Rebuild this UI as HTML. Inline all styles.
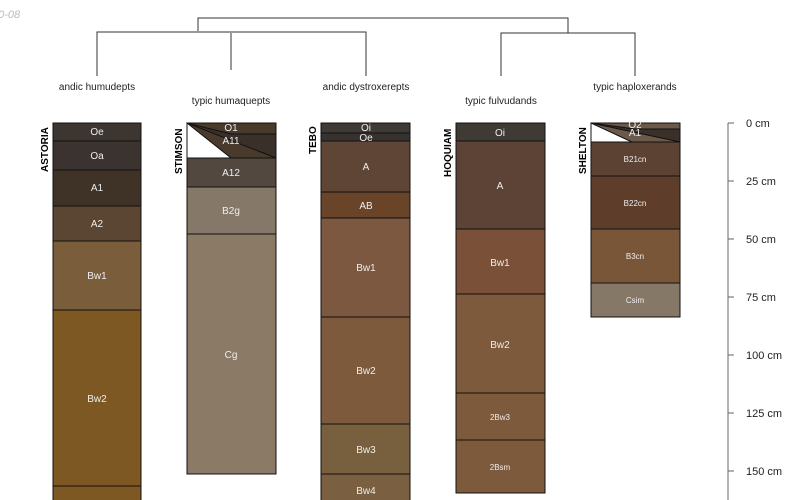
<!DOCTYPE html>
<html><head><meta charset="utf-8"><style>body{margin:0;background:#fff}svg{display:block}</style></head><body>
<svg width="800" height="500" xmlns="http://www.w3.org/2000/svg" font-family="Liberation Sans, sans-serif">
<text x="-8" y="18" font-size="11" fill="#bbb" font-style="italic">10-08</text>
<g stroke="#333" stroke-width="1" fill="none">
<path d="M198 31V18H568V33"/>
<path d="M97 76V32H366V76M231 33V70"/>
<path d="M501 76V33H635V76"/>
</g>
<g font-size="10" fill="#222" text-anchor="middle">
<text x="97" y="90">andic humudepts</text>
<text x="231" y="104">typic humaquepts</text>
<text x="366" y="90">andic dystroxerepts</text>
<text x="501" y="104">typic fulvudands</text>
<text x="635" y="90">typic haploxerands</text>
</g>
<g font-size="10" font-weight="bold" fill="#000">
<text transform="translate(48,172) rotate(-90)">ASTORIA</text>
<text transform="translate(182,174) rotate(-90)">STIMSON</text>
<text transform="translate(316,154) rotate(-90)">TEBO</text>
<text transform="translate(451,177) rotate(-90)">HOQUIAM</text>
<text transform="translate(586,174) rotate(-90)">SHELTON</text>
</g>
<g stroke="#111" stroke-width="1">
<rect x="53" y="123" width="88" height="18" fill="#3d3530"/>
<rect x="53" y="141" width="88" height="29" fill="#3a3330"/>
<rect x="53" y="170" width="88" height="36" fill="#3f3226"/>
<rect x="53" y="206" width="88" height="35" fill="#5a4632"/>
<rect x="53" y="241" width="88" height="69" fill="#7a5e3c"/>
<rect x="53" y="310" width="88" height="176" fill="#7e5823"/>
<rect x="53" y="486" width="88" height="20" fill="#7e5823"/>

<rect x="187" y="123" width="89" height="35" fill="#3a302a"/>
<polygon points="187,123 276,123 276,134 231,134" fill="#4a3a2c"/>
<polygon points="187,123 276,158 231,158" fill="#4a3a2c" stroke="none"/>
<polygon points="187,123 187,158 231,158" fill="#fff"/>
<line x1="187" y1="123" x2="276" y2="158"/>
<rect x="187" y="158" width="89" height="29" fill="#524840"/>
<rect x="187" y="187" width="89" height="47" fill="#857868"/>
<rect x="187" y="234" width="89" height="240" fill="#8a7a66"/>

<rect x="321" y="123" width="89" height="10" fill="#3f3a35"/>
<rect x="321" y="133" width="89" height="8" fill="#38322e"/>
<rect x="321" y="141" width="89" height="51" fill="#5e4535"/>
<rect x="321" y="192" width="89" height="26" fill="#6a4428"/>
<rect x="321" y="218" width="89" height="99" fill="#7d5840"/>
<rect x="321" y="317" width="89" height="107" fill="#7d5a3c"/>
<rect x="321" y="424" width="89" height="50" fill="#78603e"/>
<rect x="321" y="474" width="89" height="30" fill="#7a6040"/>

<rect x="456" y="123" width="89" height="18" fill="#403a35"/>
<rect x="456" y="141" width="89" height="88" fill="#5c4335"/>
<rect x="456" y="229" width="89" height="65" fill="#7a5038"/>
<rect x="456" y="294" width="89" height="99" fill="#7d5a3c"/>
<rect x="456" y="393" width="89" height="47" fill="#7d5a3c"/>
<rect x="456" y="440" width="89" height="53" fill="#7d5a3c"/>

<rect x="591" y="123" width="89" height="19" fill="#3a302a"/>
<polygon points="591,123 680,123 680,129 635,129" fill="#6b5a4a"/>
<polygon points="591,123 680,142 632,142" fill="#6b5a4a" stroke="none"/>
<polygon points="591,123 591,142 632,142" fill="#fff"/>
<line x1="591" y1="123" x2="680" y2="142"/>
<rect x="591" y="142" width="89" height="34" fill="#5c4232"/>
<rect x="591" y="176" width="89" height="53" fill="#5e3e2a"/>
<rect x="591" y="229" width="89" height="54" fill="#7a5638"/>
<rect x="591" y="283" width="89" height="34" fill="#857866"/>
</g>
<g fill="#eee" font-size="10" text-anchor="middle">
<text x="97" y="135">Oe</text><text x="97" y="159">Oa</text><text x="97" y="191">A1</text><text x="97" y="227">A2</text><text x="97" y="279">Bw1</text><text x="97" y="402">Bw2</text>
<text x="231" y="131">O1</text><text x="231" y="144">A11</text><text x="231" y="176">A12</text><text x="231" y="214">B2g</text><text x="231" y="358">Cg</text>
<text x="366" y="131">Oi</text><text x="366" y="141">Oe</text><text x="366" y="170">A</text><text x="366" y="209">AB</text><text x="366" y="271">Bw1</text><text x="366" y="374">Bw2</text><text x="366" y="453">Bw3</text><text x="366" y="494">Bw4</text>
<text x="500" y="136">Oi</text><text x="500" y="189">A</text><text x="500" y="266">Bw1</text><text x="500" y="348">Bw2</text>
<text x="500" y="420" font-size="8">2Bw3</text><text x="500" y="470" font-size="8">2Bsm</text>
<text x="635" y="128">O2</text><text x="635" y="136">A1</text>
<text x="635" y="162" font-size="8">B21cn</text><text x="635" y="206" font-size="8">B22cn</text><text x="635" y="259" font-size="8">B3cn</text><text x="635" y="303" font-size="8">Csim</text>
</g>
<g stroke="#666" stroke-width="1">
<line x1="728" y1="123" x2="728" y2="500"/>
<line x1="728" y1="123" x2="734" y2="123"/><line x1="728" y1="181" x2="734" y2="181"/><line x1="728" y1="239" x2="734" y2="239"/><line x1="728" y1="297" x2="734" y2="297"/><line x1="728" y1="355" x2="734" y2="355"/><line x1="728" y1="413" x2="734" y2="413"/><line x1="728" y1="471" x2="734" y2="471"/>
</g>
<g font-size="11" fill="#222">
<text x="746" y="127">0 cm</text><text x="746" y="185">25 cm</text><text x="746" y="243">50 cm</text><text x="746" y="301">75 cm</text><text x="746" y="359">100 cm</text><text x="746" y="417">125 cm</text><text x="746" y="475">150 cm</text>
</g>
</svg>
</body></html>
